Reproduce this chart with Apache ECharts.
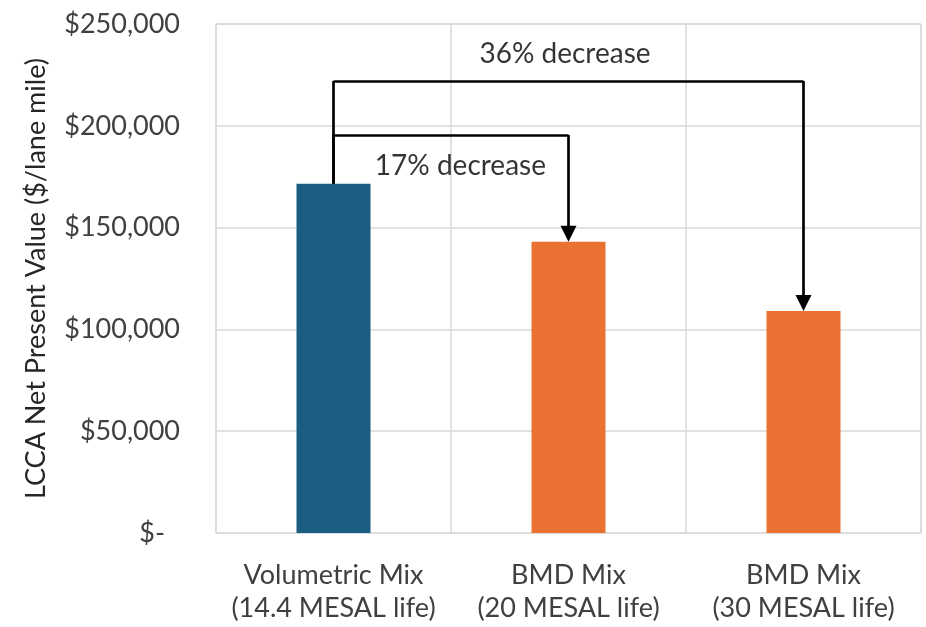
<!DOCTYPE html>
<html>
<head>
<meta charset="utf-8">
<script src="https://cdn.jsdelivr.net/npm/echarts@6/dist/echarts.min.js"></script>
<style>
  html, body { margin: 0; padding: 0; background: #fff; }
  #chart { width: 926px; height: 627px; }
</style>
</head>
<body>
<div id="chart"></div>
<script>
const categories = ['Volumetric Mix\n(14.4 MESAL life)', 'BMD Mix\n(20 MESAL life)', 'BMD Mix\n(30 MESAL life)'];
const npvValues = [171500, 143000, 109000];
const barColors = ['#1a5f81', '#e97132', '#e97132'];

// bracket levels and labels for the two decrease arrows
const bracketLevels = [195500, 222000];
const bracketTargets = [1, 2];
const bracketLabels = ['17% decrease', '36% decrease'];
const labelPos = [[0.54, 180500], [0.985, 235500]];
const arrowGap = 4000; // keeps the arrow tip on the bar top

const FONT = 'Lato, "Open Sans", sans-serif';
const chart = echarts.init(document.getElementById('chart'));

const fmt = v => v === 0 ? '{dash|$-}' : '$' + v.toLocaleString('en-US');

// plain segments (no head) and the final downward segments (with head)
const plainSegs = [];
const arrowSegs = [];
bracketTargets.forEach((t, i) => {
  plainSegs.push({ coords: [[0, npvValues[0]], [0, bracketLevels[i]]] });
  plainSegs.push({ coords: [[0, bracketLevels[i]], [t, bracketLevels[i]]] });
  arrowSegs.push({ coords: [[t, bracketLevels[i]], [t, npvValues[t] + arrowGap]] });
});

chart.setOption({
  backgroundColor: '#fff',
  animation: false,
  grid: { left: 216, right: 5, top: 24, bottom: 94, show: true, borderColor: '#d9d9d9', borderWidth: 1 },
  xAxis: [
    {
      type: 'category',
      data: categories,
      axisLine: { show: false },
      axisTick: { show: false },
      splitLine: { show: true, lineStyle: { color: '#d9d9d9', width: 1.5 } },
      axisLabel: { color: '#404040', fontFamily: FONT, fontSize: 27, lineHeight: 33, margin: 26, interval: 0 }
    },
    { type: 'value', min: -0.5, max: 2.5, show: false }
  ],
  yAxis: {
    type: 'value',
    min: 0,
    max: 250000,
    interval: 50000,
    name: 'LCCA Net Present Value ($/lane mile)',
    nameLocation: 'middle',
    nameGap: 166,
    nameTextStyle: { color: '#262626', fontFamily: FONT, fontSize: 27 },
    axisLine: { show: false },
    axisTick: { show: false },
    splitLine: { lineStyle: { color: '#d9d9d9', width: 1.5 } },
    axisLabel: {
      color: '#404040', fontFamily: FONT, fontSize: 27, margin: 36,
      formatter: fmt,
      rich: { dash: { color: '#404040', fontFamily: FONT, fontSize: 27, padding: [0, 15, 0, 0] } }
    }
  },
  series: [
    {
      type: 'bar',
      data: npvValues.map((v, i) => ({ value: v, itemStyle: { color: barColors[i] } })),
      barWidth: 74
    },
    {
      type: 'lines',
      coordinateSystem: 'cartesian2d',
      xAxisIndex: 1,
      symbol: 'none',
      lineStyle: { color: '#000', width: 2.7, opacity: 1 },
      data: plainSegs,
      z: 5
    },
    {
      type: 'lines',
      coordinateSystem: 'cartesian2d',
      xAxisIndex: 1,
      symbol: ['none', 'triangle'],
      symbolSize: [16, 16],
      lineStyle: { color: '#000', width: 2.7, opacity: 1 },
      data: arrowSegs,
      z: 5
    },
    {
      type: 'scatter',
      xAxisIndex: 1,
      symbolSize: 0,
      data: labelPos.map((p, i) => ({ value: p, name: bracketLabels[i] })),
      label: {
        show: true, position: 'inside', formatter: '{b}',
        color: '#000', fontFamily: FONT, fontSize: 28
      },
      z: 6
    }
  ]
});
</script>
</body>
</html>
